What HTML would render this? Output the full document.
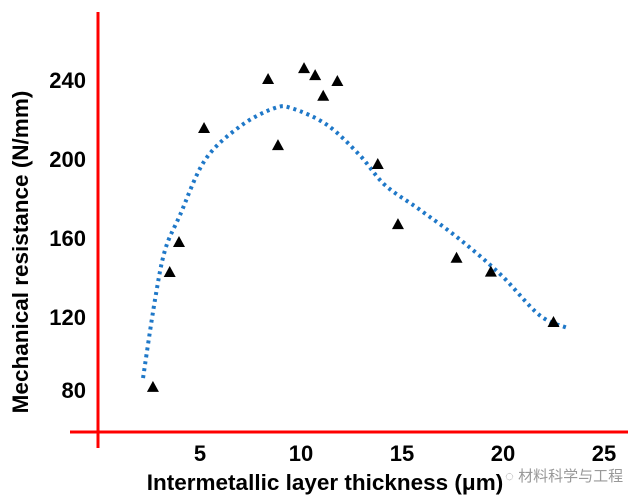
<!DOCTYPE html>
<html><head><meta charset="utf-8"><style>
body{margin:0;background:#fff}
svg{display:block;font-family:"Liberation Sans","Noto Sans CJK SC",sans-serif}
</style></head><body>
<svg width="629" height="502">
<g id="axes"></g>
<path id="fit" fill="none" stroke="#1f78c8" stroke-width="4" stroke-dasharray="3 4"/>
<g id="pts"></g>
<text transform="translate(28,252) rotate(-90)" text-anchor="middle" font-size="22.5" font-weight="bold">Mechanical resistance (N/mm)</text>
<text x="325" y="490" text-anchor="middle" font-size="22.5" font-weight="bold">Intermetallic layer thickness (μm)</text>
<text x="505" y="481" font-size="15" fill="#999">◌ 材料科学与工程</text>
</svg>
<script>
const xTicks=[5,10,15,20,25];
const yTicks=[80,120,160,200,240];
const ptX=[2.67,3.5,3.96,5.2,8.37,8.86,10.15,10.7,11.1,11.8,13.8,14.8,17.7,19.4,22.5];
const ptY=[84.6,142.8,158,215.7,240.5,207,246,242.5,232,239.5,197.5,167,150,143,117.5];
const fitX=[2.18,2.77,3.27,4.01,5.25,6.98,8.7,9.6,11.3,12.9,14.16,15.9,17.9,19.9,21.8,23.2];
const fitY=[89.1,128.6,153.9,171.6,199.5,216.5,225.8,225.5,217.2,202,186.8,174.2,159,141.3,121,114.4];
const X=v=>99+v*20.2, Y=v=>80+(240-v)*1.975;
const ns="http://www.w3.org/2000/svg";
const ax=document.getElementById('axes');
function mk(t,a,p){const e=document.createElementNS(ns,t);for(const k in a)e.setAttribute(k,a[k]);p.appendChild(e);return e;}
let l=mk('line',{x1:98,y1:12,x2:98,y2:448,stroke:'#f00','stroke-width':3},ax);


l=mk('line',{x1:70,y1:432,x2:628,y2:432,stroke:'#f00','stroke-width':3},ax);


xTicks.forEach(v=>{const t=mk('text',{x:X(v),y:461,'text-anchor':'middle','font-size':22,'font-weight':'bold'},ax);t.textContent=v;

});
yTicks.forEach(v=>{const t=mk('text',{x:86,y:Y(v)+8-(v==80?6:0),'text-anchor':'end','font-size':22,'font-weight':'bold'},ax);t.textContent=v;

});
const P=fitX.map((x,i)=>[X(x),Y(fitY[i])]);
let d='M'+P[0][0]+','+P[0][1];
for(let i=0;i<P.length-1;i++){const p0=P[i-1]||P[i],p1=P[i],p2=P[i+1],p3=P[i+2]||p2;
d+=` C${p1[0]+(p2[0]-p0[0])/6},${p1[1]+(p2[1]-p0[1])/6} ${p2[0]-(p3[0]-p1[0])/6},${p2[1]-(p3[1]-p1[1])/6} ${p2[0]},${p2[1]}`;}
document.getElementById('fit').setAttribute('d',d);
const g=document.getElementById('pts');
ptX.forEach((x,i)=>{const cx=X(x),cy=Y(ptY[i]);
const t=mk('polygon',{points:`${cx},${cy-6} ${cx-6},${cy+5} ${cx+6},${cy+5}`,fill:'#000'},g);

});
</script>
</body></html>
